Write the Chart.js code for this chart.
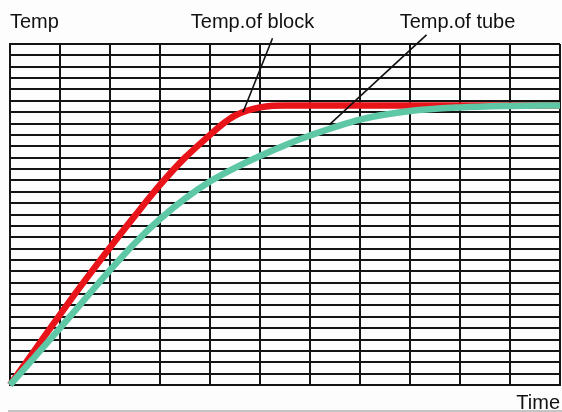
<!DOCTYPE html>
<html>
<head>
<meta charset="utf-8">
<script src="https://cdn.jsdelivr.net/npm/chart.js@4/dist/chart.umd.min.js"></script>
<style>
html,body{margin:0;padding:0;background:#fdfdfd;}
#wrap{position:relative;width:562px;height:412px;}
</style>
</head>
<body>
<div id="wrap"><canvas id="c" width="562" height="412"></canvas></div>
<script>
// Time axis (grid columns) and temperature axis (grid rows)
const timeTicks = [0,1,2,3,4,5,6,7,8,9,10,11];
const tempMax = 30;
// Temperature of block (red)
const blockX = [0,0.5,1,1.5,2,2.5,3,3.5,4,4.25,4.5,4.75,5,5.25,5.5,6,7,8,9,10,11];
const blockY = [0,3.1,6.2,9.2,12.1,14.9,17.6,20.0,22.0,22.95,23.7,24.15,24.42,24.56,24.6,24.6,24.6,24.6,24.6,24.6,24.6];
// Temperature of tube (teal)
const tubeX = [0,1,2,2.5,3,3.5,4,4.5,5,5.5,6,7,8,9,10,11];
const tubeY = [0,5.0,10.1,12.5,14.6,16.4,17.9,19.1,20.15,21.1,21.95,23.35,24.1,24.42,24.55,24.6];
// Labels
const axisYLabel = "Temp";
const axisXLabel = "Time";
const blockLabel = "Temp.of block";
const tubeLabel = "Temp.of tube";
// Leader lines (data units): from curve point up to the label
const blockLeaderX = [4.66, 5.25];
const blockLeaderY = [24.0, 30.5];
const tubeLeaderX = [6.4, 8.33];
const tubeLeaderY = [22.95, 30.8];

const toPts = (xs, ys) => xs.map((x,i)=>({x:x,y:ys[i]}));
const FONT = '20px "Liberation Sans", Arial, sans-serif';

const textPlugin = {
  id:'texts',
  afterDraw(chart){
    const ctx = chart.ctx, xs = chart.scales.x, a = chart.chartArea;
    ctx.save();
    ctx.fillStyle = '#111';
    ctx.font = FONT;
    ctx.textBaseline = 'alphabetic';
    ctx.textAlign = 'left';
    ctx.fillText(axisYLabel, a.left, 28);
    ctx.textAlign = 'center';
    ctx.fillText(blockLabel, xs.getPixelForValue(blockLeaderX[1]) - 20, 28);
    ctx.fillText(tubeLabel, xs.getPixelForValue(tubeLeaderX[1]) + 31, 28);
    ctx.textAlign = 'right';
    ctx.fillText(axisXLabel, a.right, 409);
    ctx.strokeStyle = '#b0b0b0';
    ctx.lineWidth = 1.5;
    ctx.beginPath();
    ctx.moveTo(a.left - 2, 411);
    ctx.lineTo(chart.width, 411);
    ctx.stroke();
    ctx.restore();
  }
};

new Chart(document.getElementById('c'), {
  type:'line',
  data:{
    datasets:[
      {label:blockLabel, data:toPts(blockX,blockY), borderColor:'#e8141a', borderWidth:6.5, pointRadius:0, cubicInterpolationMode:'monotone', order:2, clip:false},
      {label:tubeLabel, data:toPts(tubeX,tubeY), borderColor:'#5ec8a6', borderWidth:6.5, pointRadius:0, cubicInterpolationMode:'monotone', order:1, clip:false},
      {label:'l1', data:toPts(blockLeaderX,blockLeaderY), borderColor:'#111', borderWidth:1.6, pointRadius:0, tension:0, order:0, clip:false},
      {label:'l2', data:toPts(tubeLeaderX,tubeLeaderY), borderColor:'#111', borderWidth:1.6, pointRadius:0, tension:0, order:0, clip:false}
    ]
  },
  options:{
    responsive:false,
    animation:false,
    events:[],
    layout:{padding:{left:10,right:2,top:44,bottom:27}},
    plugins:{legend:{display:false},tooltip:{enabled:false},title:{display:false}},
    scales:{
      x:{type:'linear', min:timeTicks[0], max:timeTicks[timeTicks.length-1],
         ticks:{display:false, stepSize:1, padding:0},
         grid:{color:'#141414', lineWidth:2, drawTicks:false},
         border:{display:true,color:'#141414',width:2}},
      y:{type:'linear', min:0, max:tempMax,
         ticks:{display:false, stepSize:1, padding:0},
         grid:{color:'#141414', lineWidth:2, drawTicks:false},
         border:{display:true,color:'#141414',width:2}}
    }
  },
  plugins:[textPlugin]
});
</script>
</body>
</html>
